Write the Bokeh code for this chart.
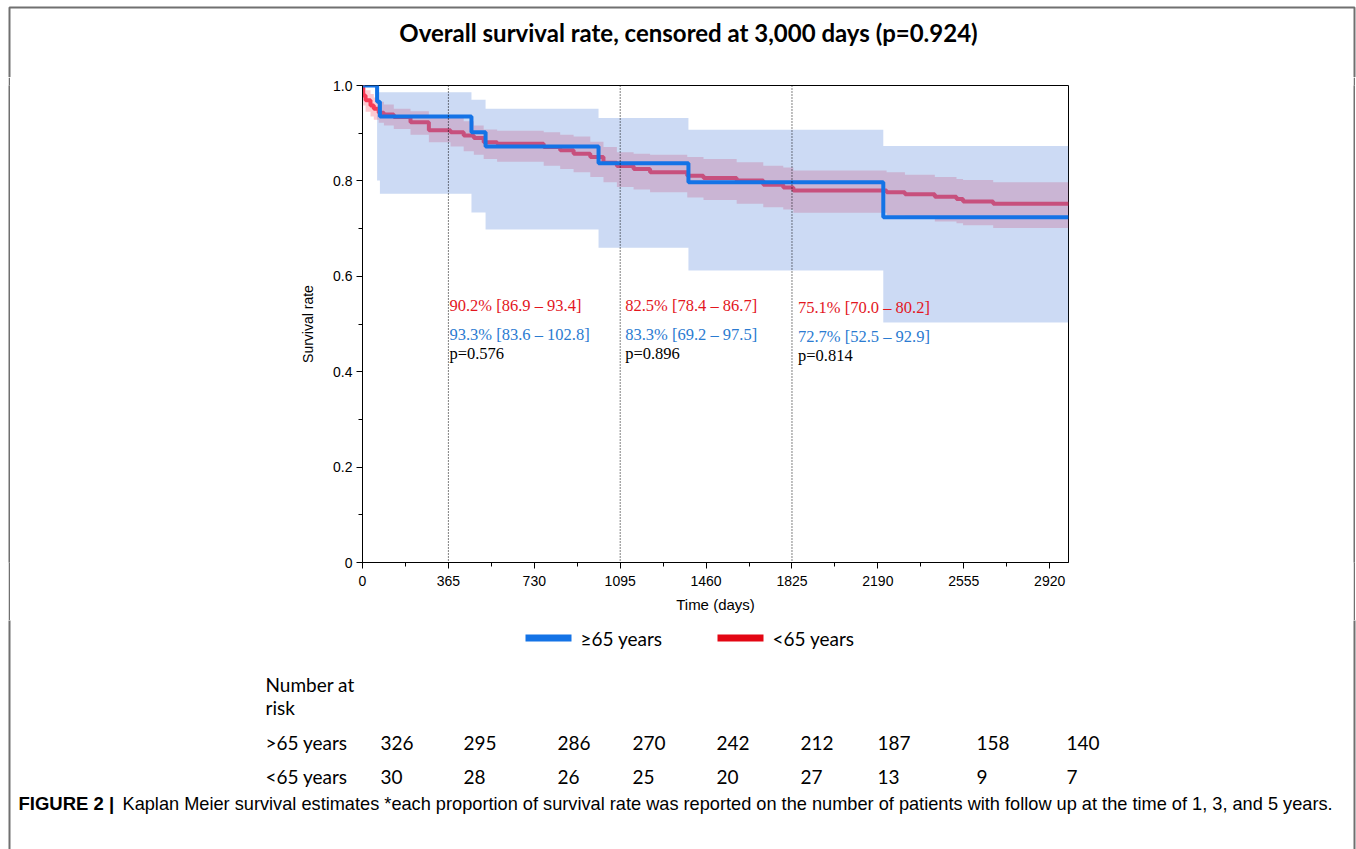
from bokeh.plotting import figure
from bokeh.layouts import column, row
from bokeh.models import Span, FixedTicker, Spacer
from bokeh.core.properties import value
from bokeh.embed import file_html
from bokeh.resources import INLINE

# ---------------- data ----------------
T_END = 3000
# >=65 years group (blue)
blue_t = [0, 62, 74, 463, 523, 1003, 1385, 2213]
blue_s = [1.0, 0.966, 0.935, 0.902, 0.872, 0.837, 0.797, 0.724]
blue_up = [1.0, 0.986, 0.986, 0.970, 0.951, 0.932, 0.907, 0.873]
blue_lo = [1.0, 0.801, 0.773, 0.734, 0.698, 0.660, 0.612, 0.503]

# <65 years group (red)
red_t = [0, 3, 13, 34, 48, 69, 91, 133, 204, 282, 374, 430, 473, 515, 572, 770, 840,
         897, 968, 1024, 1081, 1152, 1222, 1380, 1449, 1590, 1703, 1788, 1831, 2227,
         2305, 2432, 2524, 2552, 2680]
red_s = [1.0, 0.979, 0.969, 0.958, 0.951, 0.943, 0.939, 0.934, 0.923, 0.906, 0.902,
         0.895, 0.890, 0.881, 0.878, 0.871, 0.864, 0.857, 0.850, 0.838, 0.831, 0.825,
         0.818, 0.811, 0.806, 0.801, 0.792, 0.786, 0.780, 0.776, 0.772, 0.767, 0.762,
         0.757, 0.752]
red_up = [1.0, 0.995, 0.990, 0.982, 0.975, 0.966, 0.960, 0.951, 0.946, 0.934, 0.932,
          0.925, 0.916, 0.908, 0.905, 0.902, 0.897, 0.893, 0.882, 0.871, 0.860, 0.857,
          0.855, 0.850, 0.846, 0.839, 0.832, 0.828, 0.822, 0.818, 0.813, 0.808, 0.804,
          0.802, 0.797]
red_lo = [1.0, 0.958, 0.945, 0.935, 0.928, 0.922, 0.916, 0.909, 0.897, 0.881, 0.872,
          0.862, 0.855, 0.846, 0.840, 0.832, 0.825, 0.818, 0.808, 0.797, 0.787, 0.782,
          0.776, 0.765, 0.760, 0.752, 0.745, 0.740, 0.733, 0.727, 0.720, 0.715, 0.711,
          0.707, 0.701]

x_ticks = [0, 365, 730, 1095, 1460, 1825, 2190, 2555, 2920]
x_minor = [182.5, 547.5, 912.5, 1277.5, 1642.5, 2007.5, 2372.5, 2737.5]
y_ticks = [0, 0.2, 0.4, 0.6, 0.8, 1.0]
y_minor = [0.1, 0.3, 0.5, 0.7, 0.9]
y_tick_labels = {0: "0", 0.2: "0.2", 0.4: "0.4", 0.6: "0.6", 0.8: "0.8", 1.0: "1.0"}

milestones = [365, 1095, 1825]
red_txt = ["90.2% [86.9 \u2013 93.4]", "82.5% [78.4 \u2013 86.7]", "75.1% [70.0 \u2013 80.2]"]
blue_txt = ["93.3% [83.6 \u2013 102.8]", "83.3% [69.2 \u2013 97.5]", "72.7% [52.5 \u2013 92.9]"]
p_txt = ["p=0.576", "p=0.896", "p=0.814"]

risk_rows = [">65 years", "<65 years"]
risk_hi = [326, 295, 286, 270, 242, 212, 187, 158, 140]
risk_lo = [30, 28, 26, 25, 20, 27, 13, 9, 7]

title_text = "Overall survival rate, censored at 3,000 days (p=0.924)"
legend_labels = ["\u226565 years", "<65 years"]
caption_bold = "FIGURE 2 |"
caption_text = ("Kaplan Meier survival estimates *each proportion of survival rate was reported "
                "on the number of patients with follow up at the time of 1, 3, and 5 years.")

# ---------------- layout constants (page pixels) ----------------
W, H = 1356, 849
FL, FT, FR, FB = 362, 85, 1068, 562     # plot frame edges
HEAD_H = 77                              # header band height
MID_B = 620                              # bottom of the plot band
MID_H = MID_B - HEAD_H
BL, BR = 8, 1353                         # outer border left edges (2px wide)
BORDER = "#707070"

BLUE_LINE = "#1473e6"
BLUE_FILL = "#5584da"
RED_LINE = "#f83a55"
RED_TEXT = "#e3161e"
BLUE_TEXT = "#2b7bd1"
CAL = value("Lato")


def canvas(width, height, x0, x1, y0, y1):
    """A figure whose frame fills the whole canvas, with page-pixel coordinates."""
    f = figure(width=width, height=height, x_range=(x0, x1), y_range=(y1, y0),
               output_backend="svg", toolbar_location=None,
               x_axis_location=None, y_axis_location=None,
               min_border=0, min_border_left=0, min_border_right=0,
               min_border_top=0, min_border_bottom=0)
    f.grid.visible = False
    f.outline_line_color = None
    f.background_fill_color = "white"
    f.border_fill_color = "white"
    return f


def bar(width, height):
    f = canvas(width, height, 0, 1, 0, 1)
    f.background_fill_color = BORDER
    f.border_fill_color = BORDER
    return f


# ---------------- header ----------------
head = canvas(W, HEAD_H, 0, W, 0, HEAD_H)
head.text(x=[688], y=[32], text=[title_text], text_font=CAL, text_font_style="bold",
          text_font_size="24px", text_align="center", text_baseline="middle",
          text_color="black")
head.line(x=[BL + 1, BL + 1, BR + 1, BR + 1], y=[HEAD_H + 1, 7, 7, HEAD_H + 1],
          line_color=BORDER, line_width=2)

# ---------------- main plot ----------------
PW = BR - (BL + 2)
p = figure(width=PW, height=MID_H, x_range=(0, T_END), y_range=(0, 1.0),
           output_backend="svg", toolbar_location=None,
           min_border_left=FL - (BL + 2), min_border_right=BR - FR,
           min_border_top=FT - HEAD_H, min_border_bottom=MID_B - FB)
p.grid.visible = False
p.background_fill_color = "white"
p.border_fill_color = "white"
p.outline_line_color = "black"
p.outline_line_width = 1

for ax in (p.xaxis[0], p.yaxis[0]):
    ax.axis_line_color = "black"
    ax.major_tick_line_color = "black"
    ax.minor_tick_line_color = "black"
    ax.major_tick_in = 0
    ax.major_tick_out = 6
    ax.minor_tick_in = 0
    ax.minor_tick_out = 4
    ax.major_label_text_font = "Liberation Sans"
    ax.major_label_text_font_size = "14px"
    ax.major_label_text_color = "black"
    ax.axis_label_text_font = "Liberation Sans"
    ax.axis_label_text_font_style = "normal"
    ax.axis_label_text_color = "black"

p.xaxis.ticker = FixedTicker(ticks=x_ticks, minor_ticks=x_minor)
p.yaxis.ticker = FixedTicker(ticks=y_ticks, minor_ticks=y_minor)
p.yaxis.major_label_overrides = y_tick_labels
p.xaxis.axis_label = "Time (days)"
p.yaxis.axis_label = "Survival rate"
p.xaxis.axis_label_text_font_size = "15px"
p.yaxis.axis_label_text_font_size = "14px"
p.xaxis.major_label_standoff = 7
p.xaxis.axis_label_standoff = 7
p.yaxis.major_label_standoff = 4
p.yaxis.axis_label_standoff = 14

bt = blue_t + [T_END]
rt = red_t + [T_END]
p.varea_step(x=rt, y1=red_lo + [red_lo[-1]], y2=red_up + [red_up[-1]], step_mode="after",
             fill_color=RED_LINE, fill_alpha=0.27)
p.step(rt, red_s + [red_s[-1]], mode="after", line_color=RED_LINE, line_width=4)
p.varea_step(x=bt, y1=blue_lo + [blue_lo[-1]], y2=blue_up + [blue_up[-1]], step_mode="after",
             fill_color=BLUE_FILL, fill_alpha=0.3)
p.step(bt, blue_s + [blue_s[-1]], mode="after", line_color=BLUE_LINE, line_width=4)

for m in milestones:
    p.add_layout(Span(location=m, dimension="height", line_color="black",
                      line_width=1, line_dash="1 2"))

offsets = [1, 5, 6]
rows_y = [[0.539, 0.478, 0.438], [0.539, 0.478, 0.438], [0.535, 0.474, 0.434]]
for i, m in enumerate(milestones):
    p.text(x=[m, m, m], y=rows_y[i], text=[red_txt[i], blue_txt[i], p_txt[i]],
           x_offset=offsets[i], text_font=value("Liberation Serif"), text_font_size="16.5px",
           text_color=[RED_TEXT, BLUE_TEXT, "black"], text_baseline="middle",
           text_align="left")

middle = row(Spacer(width=BL, height=MID_H), bar(2, MID_H), p, bar(2, MID_H))

# ---------------- footer: legend, number at risk, caption ----------------
foot = canvas(W, H - MID_B, 0, W, MID_B, H)
foot.line(x=[BL + 1, BL + 1], y=[MID_B - 1, H], line_color=BORDER, line_width=2)
foot.line(x=[BR + 1, BR + 1], y=[MID_B - 1, H], line_color=BORDER, line_width=2)

leg_cols = [BLUE_LINE, "#e30613"]
leg_x = [525, 717]
leg_tx = [580, 772]
foot.quad(left=leg_x, right=[x + 46 for x in leg_x], top=[634, 634], bottom=[641, 641],
          fill_color=leg_cols, line_color=None)
foot.text(x=leg_tx, y=[638, 638], text=legend_labels, text_font=CAL, text_font_size="19px",
          text_baseline="middle", text_color="black")

foot.text(x=[265, 265], y=[684, 707], text=["Number at", "risk"], text_font=CAL,
          text_font_size="19px", text_baseline="middle", text_color="black")
risk_x = [380, 463, 557, 632, 716, 800, 877, 976, 1066]
for lab, vals, Y in zip(risk_rows, [risk_hi, risk_lo], [742, 776]):
    foot.text(x=[265] + risk_x, y=[Y] * (len(vals) + 1), text=[lab] + [str(v) for v in vals],
              text_font=CAL, text_font_size="19px", text_baseline="middle", text_color="black")

foot.text(x=[18], y=[803], text=[caption_bold], text_font=value("Liberation Sans"),
          text_font_style="bold", text_font_size="18.5px", text_baseline="middle",
          text_color="black")
foot.text(x=[122], y=[803], text=[caption_text], text_font=value("Liberation Sans"),
          text_font_size="18.2px", text_baseline="middle", text_color="black")

layout = column(head, middle, foot)
open("out.html", "w").write(file_html(layout, INLINE))
